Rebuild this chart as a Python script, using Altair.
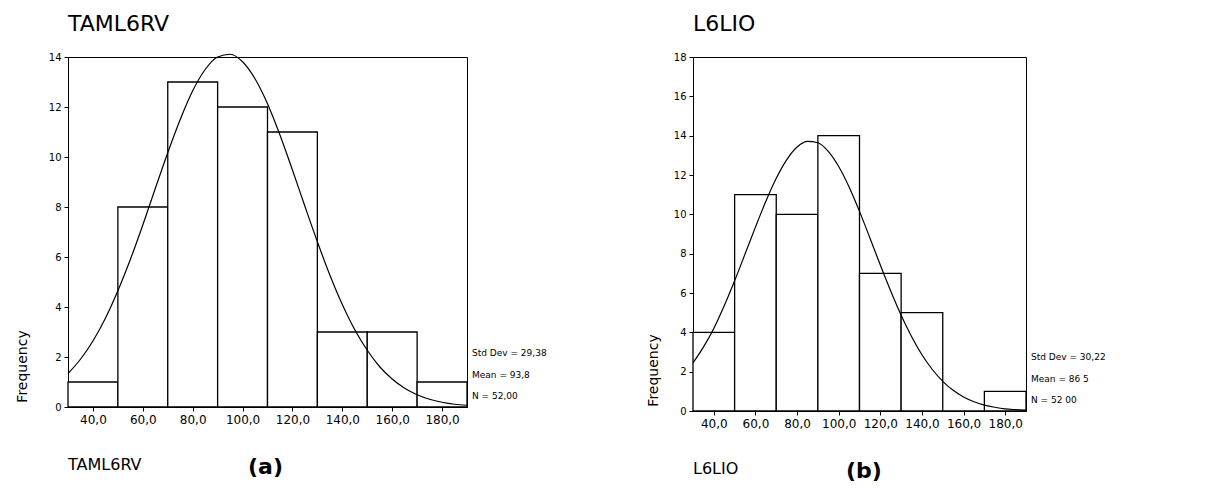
import altair as alt
import pandas as pd

# ---------------- data ----------------
bin_lo = [30, 50, 70, 90, 110, 130, 150, 170]
bin_hi = [50, 70, 90, 110, 130, 150, 170, 190]

freq_a = [1, 8, 13, 12, 11, 3, 3, 1]
freq_b = [4, 11, 10, 14, 7, 5, 0, 1]

curve_x = [30, 35, 40, 45, 50, 55, 60, 65, 70, 75, 80, 85, 90, 95, 100, 105,
           110, 115, 120, 125, 130, 135, 140, 145, 150, 155, 160, 165, 170,
           175, 180, 185, 190]
curve_a = [1.34, 1.91, 2.64, 3.55, 4.65, 5.90, 7.28, 8.74, 10.17, 11.50, 12.65,
           13.50, 14.0, 14.11, 13.81, 13.13, 12.13, 10.88, 9.48, 8.03, 6.61,
           5.28, 4.10, 3.09, 2.27, 1.61, 1.12, 0.75, 0.49, 0.31, 0.19, 0.11, 0.07]
curve_b = [2.45, 3.25, 4.20, 5.35, 6.62, 7.98, 9.35, 10.66, 11.83, 12.77, 13.42,
           13.71, 13.64, 13.20, 12.43, 11.39, 10.15, 8.80, 7.42, 6.10, 4.87,
           3.79, 2.86, 2.11, 1.51, 1.05, 0.71, 0.47, 0.30, 0.19, 0.11, 0.07, 0.04]

x_ticks = [40, 60, 80, 100, 120, 140, 160, 180]
y_ticks_a = [0, 2, 4, 6, 8, 10, 12, 14]
y_ticks_b = [0, 2, 4, 6, 8, 10, 12, 14, 16, 18]

stats_a = ["Std Dev = 29,38", "Mean = 93,8", "N = 52,00"]
stats_b = ["Std Dev = 30,22", "Mean = 86 5", "N = 52 00"]

FONT = "DejaVu Sans"


def text_layer(txt, x, y, size, weight="normal", font=FONT):
    return alt.Chart(pd.DataFrame({"t": [txt]})).mark_text(
        align="left", baseline="middle", font=font, fontSize=size,
        fontWeight=weight, color="black"
    ).encode(x=alt.value(x), y=alt.value(y), text="t:N")


def panel(name, letter, freq, curve, ymax, yticks, width, height,
          stats, freq_title_x, freq_title_y, letter_x):
    xs = alt.Scale(domain=[30, 190], nice=False, zero=False)
    ys = alt.Scale(domain=[0, ymax], nice=False)
    x_axis = alt.Axis(
        values=x_ticks, tickCount=len(x_ticks), title=None, grid=False,
        tickSize=4, labelFontSize=12, labelPadding=3, labelFont=FONT,
        labelOverlap=False,
        labelExpr="replace(format(datum.value, '.1f'), '.', ',')")
    y_axis = alt.Axis(
        values=yticks, tickCount=len(yticks), title="Frequency", grid=False,
        tickSize=4, labelFontSize=10, labelPadding=3, labelFont=FONT,
        labelOverlap=False,
        titleFont=FONT, titleFontSize=14, titleFontWeight="normal",
        titleAngle=-90, titleBaseline="middle", titleAlign="center",
        titleX=freq_title_x, titleY=freq_title_y)

    bars_df = pd.DataFrame({"lo": bin_lo, "hi": bin_hi, "freq": freq})
    curve_df = pd.DataFrame({"x": curve_x, "y": curve})

    bars = alt.Chart(bars_df).mark_rect(
        fill="white", stroke="black", strokeWidth=1.3
    ).encode(
        x=alt.X("lo:Q", scale=xs, axis=x_axis),
        x2="hi:Q",
        y=alt.Y("freq:Q", scale=ys, axis=y_axis),
        y2=alt.datum(0),
    )

    line = alt.Chart(curve_df).mark_line(
        color="black", strokeWidth=1.2, interpolate="monotone"
    ).encode(x=alt.X("x:Q", scale=xs, axis=x_axis),
             y=alt.Y("y:Q", scale=ys, axis=y_axis))

    layers = [bars, line]
    sx = width + 5
    for t, yy in zip(stats, [height - 54, height - 32, height - 11]):
        layers.append(text_layer(t, sx, yy, 9))
    layers.append(text_layer(name, 0, height + 58, 16))
    layers.append(text_layer(letter, letter_x, height + 60, 22, "bold"))

    return alt.layer(*layers).properties(
        width=width, height=height,
        title=alt.TitleParams(name, anchor="start", frame="group", font=FONT,
                              fontSize=22, fontWeight="normal", color="black",
                              offset=16),
    )


left = panel("TAML6RV", "(a)", freq_a, curve_a, 14, y_ticks_a, 399, 350,
             stats_a, -46, 309, 180)
right = panel("L6LIO", "(b)", freq_b, curve_b, 18, y_ticks_b, 333, 354,
              stats_b, -40, 313, 153)

chart = alt.hconcat(left, right, spacing=97).properties(
    padding={"left": 6, "top": 4, "right": 0, "bottom": 0}
).configure_view(stroke="black", strokeWidth=1).configure_axis(
    domainColor="black", tickColor="black", labelColor="black",
    titleColor="black", domainWidth=1
)

chart.save("out.html", embed_options={"renderer": "svg", "actions": False})
